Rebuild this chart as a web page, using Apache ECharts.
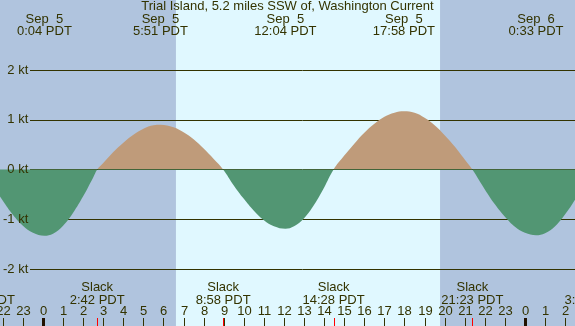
<!DOCTYPE html>
<html>
<head>
<meta charset="utf-8">
<script src="https://cdn.jsdelivr.net/npm/echarts@6/dist/echarts.min.js"></script>
<style>
  html, body { margin: 0; padding: 0; background: #B0C4DE; }
  #chart { width: 575px; height: 326px; }
</style>
</head>
<body>
<div id="chart"></div>
<script>
// current speed (kt), hours from Sep 5 00:00 PDT
const currentHours = [-4, -3.5, -2.95, -2.5, -2, -1.5, -1, -0.5, 0.07, 0.5, 1, 1.5, 2, 2.5, 2.7, 3, 3.5, 4, 4.5, 5, 5.5, 5.85,
  6.5, 7, 7.5, 8, 8.5, 8.97, 9.5, 10, 10.5, 11, 11.5, 12.07, 12.5, 13, 13.5, 14, 14.47, 15, 15.5, 16, 16.5, 17, 17.5, 17.97,
  18.5, 19, 19.5, 20, 20.5, 21, 21.38, 22, 22.5, 23, 23.5, 24, 24.55, 25, 25.5, 26, 26.5, 27, 27.34, 28];
const currentKnots = [0.49, 0.27, 0, -0.31, -0.63, -0.91, -1.13, -1.27, -1.33, -1.29, -1.13, -0.87, -0.54, -0.16, 0, 0.13, 0.35, 0.54, 0.7, 0.82, 0.89, 0.9,
  0.85, 0.75, 0.61, 0.42, 0.21, 0, -0.32, -0.59, -0.83, -1.02, -1.14, -1.19, -1.14, -0.98, -0.71, -0.36, 0, 0.28, 0.52, 0.74, 0.92, 1.06, 1.14, 1.17,
  1.14, 1.04, 0.89, 0.69, 0.46, 0.2, 0, -0.4, -0.7, -0.95, -1.15, -1.27, -1.32, -1.28, -1.14, -0.9, -0.6, -0.25, 0, 0.3];

// max flood / max ebb events
const maxHours = [0.07, 5.85, 12.07, 17.97, 24.55];
const maxDates = ['Sep  5', 'Sep  5', 'Sep  5', 'Sep  5', 'Sep  6'];
const maxTimes = ['0:04 PDT', '5:51 PDT', '12:04 PDT', '17:58 PDT', '0:33 PDT'];

// slack water
const slackHours = [-2.95, 2.7, 8.97, 14.47, 21.38, 27.34];
const slackTimes = ['21:03 PDT', '2:42 PDT', '8:58 PDT', '14:28 PDT', '21:23 PDT', '3:20 PDT'];

// daylight (sunrise, sunset)
const daylight = [[6.62, 19.77]];

// hour axis
const hourTicks = [-2, -1, 0, 1, 2, 3, 4, 5, 6, 7, 8, 9, 10, 11, 12, 13, 14, 15, 16, 17, 18, 19, 20, 21, 22, 23, 24, 25, 26];
const hourLabels = ['22', '23', '0', '1', '2', '3', '4', '5', '6', '7', '8', '9', '10', '11', '12', '13', '14', '15', '16', '17', '18', '19', '20', '21', '22', '23', '0', '1', '2'];

const NIGHT = '#B0C4DE';
const DAY = '#E0F8FF';
const FLOOD = '#BF9B7A';
const EBB = '#529673';
const INK = '#333300';
const FONT = '"Liberation Sans", Arial, sans-serif';
const GRID_TOP = 70;
const GRID_BOTTOM = 57;

const chart = echarts.init(document.getElementById('chart'));
const H = chart.getHeight();

function textEl(str, x, y) {
  return {
    type: 'text',
    style: {
      text: str, x: x, y: y,
      align: 'center', verticalAlign: 'middle',
      fontSize: 13, fontFamily: FONT, fill: INK
    }
  };
}

// y axis runs -2..2 kt, so 0 kt sits half way down the plot
const areaFill = new echarts.graphic.LinearGradient(0, GRID_TOP, 0, H - GRID_BOTTOM, [
  { offset: 0, color: FLOOD },
  { offset: 0.5, color: FLOOD },
  { offset: 0.5, color: EBB },
  { offset: 1, color: EBB }
], true);

const option = {
  backgroundColor: NIGHT,
  animation: false,
  title: {
    text: 'Trial Island, 5.2 miles SSW of, Washington Current',
    left: 'center',
    top: 0,
    padding: 0,
    textStyle: { fontSize: 13, fontWeight: 'normal', fontFamily: FONT, color: INK }
  },
  grid: [
    { left: 0, right: 0, top: GRID_TOP, bottom: GRID_BOTTOM },
    { left: 30, right: 0, top: GRID_TOP, bottom: GRID_BOTTOM },
    { left: 30, right: 0, top: GRID_TOP, bottom: GRID_BOTTOM }
  ],
  xAxis: [
    { gridIndex: 0, type: 'value', min: -2.141, max: 26.49, show: false },
    { gridIndex: 1, type: 'value', min: 0, max: 1, show: false },
    { gridIndex: 2, type: 'value', min: 0, max: 1, show: false }
  ],
  yAxis: [
    { gridIndex: 0, type: 'value', min: -2, max: 2, show: false },
    {
      gridIndex: 1, type: 'value', min: -2, max: 2, interval: 1, z: 1,
      axisLine: { show: false }, axisTick: { show: false }, axisLabel: { show: false },
      splitLine: { show: true, lineStyle: { color: INK, width: 1 } }
    },
    {
      gridIndex: 2, type: 'value', min: -2, max: 2, interval: 1, z: 5,
      axisLine: { show: false }, axisTick: { show: false }, splitLine: { show: false },
      axisLabel: { formatter: '{value} kt', margin: 2, fontSize: 13, fontFamily: FONT, color: INK }
    }
  ],
  series: [
    {
      // daylight band
      type: 'custom',
      xAxisIndex: 0, yAxisIndex: 0,
      z: 0, clip: false, silent: true,
      data: daylight,
      renderItem: function (params, api) {
        const x0 = api.coord([api.value(0), 0])[0];
        const x1 = api.coord([api.value(1), 0])[0];
        return { type: 'rect', shape: { x: x0, y: 0, width: x1 - x0, height: api.getHeight() }, style: { fill: DAY } };
      }
    },
    {
      type: 'line',
      xAxisIndex: 0, yAxisIndex: 0,
      z: 2, clip: false,
      smooth: 0.4,
      showSymbol: false,
      lineStyle: { opacity: 0 },
      areaStyle: { opacity: 1, color: areaFill, origin: 0 },
      data: currentHours.map((h, i) => [h, currentKnots[i]])
    },
    {
      // hour ticks and labels
      type: 'custom',
      xAxisIndex: 0, yAxisIndex: 0,
      z: 5, clip: false, silent: true,
      data: hourTicks.map((h, i) => [h, i]),
      renderItem: function (params, api) {
        const x = Math.round(api.coord([api.value(0), 0])[0]) + 0.5;
        const h = api.getHeight();
        const label = hourLabels[api.value(1)];
        const midnight = label === '0';
        return {
          type: 'group',
          children: [
            { type: 'line', shape: { x1: x, y1: h - 8, x2: x, y2: h }, style: { stroke: midnight ? '#221100' : INK, lineWidth: midnight ? 3 : 1 } },
            textEl(label, x, 311.7)
          ]
        };
      }
    },
    {
      // slack markers and labels
      type: 'custom',
      xAxisIndex: 0, yAxisIndex: 0,
      z: 6, clip: false, silent: true,
      data: slackHours.map((h, i) => [h, i]),
      renderItem: function (params, api) {
        const x = api.coord([api.value(0), 0])[0];
        const xl = Math.round(x) + 0.5;
        const h = api.getHeight();
        return {
          type: 'group',
          children: [
            { type: 'line', shape: { x1: xl, y1: h - 8, x2: xl, y2: h }, style: { stroke: '#ff0000', lineWidth: 1 } },
            textEl('Slack', x, 287.6),
            textEl(slackTimes[api.value(1)], x, 300)
          ]
        };
      }
    },
    {
      // max flood / ebb labels
      type: 'custom',
      xAxisIndex: 0, yAxisIndex: 0,
      z: 6, clip: false, silent: true,
      data: maxHours.map((h, i) => [h, i]),
      renderItem: function (params, api) {
        const x = api.coord([api.value(0), 0])[0];
        const i = api.value(1);
        return {
          type: 'group',
          children: [
            textEl(maxDates[i], x, 19.6),
            textEl(maxTimes[i], x, 31.2)
          ]
        };
      }
    }
  ]
};

chart.setOption(option);
</script>
</body>
</html>
